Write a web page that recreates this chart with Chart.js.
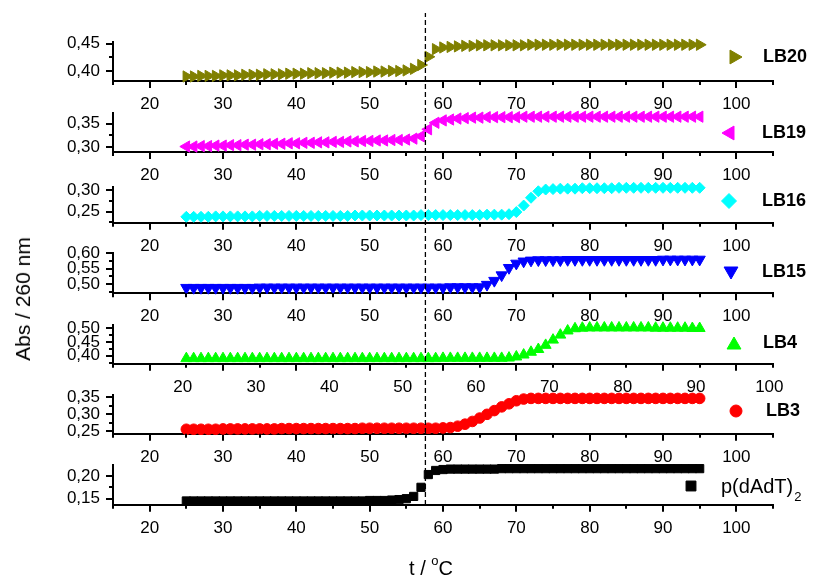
<!DOCTYPE html>
<html>
<head>
<meta charset="utf-8">
<script src="https://cdn.jsdelivr.net/npm/chart.js@4.4.1/dist/chart.umd.min.js"></script>
<style>
html,body{margin:0;padding:0;background:#fff;}
#wrap{position:relative;width:814px;height:581px;overflow:hidden;background:#fff;font-family:"Liberation Sans",Arial,sans-serif;color:#000;}
#wrap canvas{position:absolute;left:0;top:0;}
.ytitle{position:absolute;left:23px;top:299px;transform:translate(-50%,-50%) rotate(-90deg);font-size:21px;white-space:nowrap;}
.xtitle{position:absolute;left:431px;top:568px;transform:translate(-50%,-50%);font-size:20px;white-space:nowrap;}
.xtitle sup{font-size:13px;vertical-align:top;position:relative;top:-4px;}
</style>
</head>
<body>
<div id="wrap">
<div class="ytitle">Abs / 260 nm</div>
<div class="xtitle">t / <sup>o</sup>C</div>
</div>
<script>
// ---------------- DATA ----------------
const temps = [25,26,27,28,29,30,31,32,33,34,35,36,37,38,39,40,41,42,43,44,45,46,47,48,49,50,51,52,53,54,55,56,57,58,59,60,61,62,63,64,65,66,67,68,69,70,71,72,73,74,75,76,77,78,79,80,81,82,83,84,85,86,87,88,89,90,91,92,93,94,95];

const lb20 = [0.390,0.390,0.391,0.391,0.391,0.392,0.392,0.392,0.393,0.393,
              0.393,0.394,0.394,0.394,0.395,0.395,0.395,0.396,0.396,0.396,
              0.397,0.397,0.397,0.398,0.398,0.398,0.399,0.399,0.400,0.400,
              0.401,0.404,0.411,0.426,0.440,0.443,0.444,0.445,0.446,0.446,
              0.447,0.447,0.447,0.447,0.447,0.447,0.447,0.448,0.448,0.448,
              0.448,0.448,0.448,0.448,0.448,0.448,0.448,0.448,0.448,0.448,
              0.448,0.448,0.448,0.448,0.448,0.448,0.448,0.448,0.448,0.448,
              0.448];
const lb19 = [0.301,0.301,0.302,0.302,0.303,0.303,0.304,0.304,0.305,0.305,
              0.306,0.306,0.307,0.307,0.308,0.308,0.309,0.309,0.310,0.310,
              0.311,0.311,0.312,0.312,0.313,0.313,0.314,0.314,0.315,0.315,
              0.316,0.318,0.323,0.338,0.352,0.357,0.359,0.361,0.362,0.363,
              0.363,0.364,0.364,0.364,0.364,0.364,0.365,0.365,0.365,0.365,
              0.365,0.365,0.365,0.365,0.365,0.365,0.365,0.365,0.365,0.365,
              0.365,0.365,0.365,0.365,0.365,0.365,0.365,0.365,0.365,0.365,
              0.365];
const lb16 = [0.238,0.238,0.238,0.238,0.239,0.239,0.239,0.239,0.239,0.239,
              0.240,0.240,0.240,0.240,0.240,0.240,0.240,0.240,0.240,0.240,
              0.240,0.240,0.240,0.241,0.241,0.241,0.241,0.241,0.241,0.241,
              0.241,0.241,0.242,0.242,0.242,0.242,0.242,0.242,0.242,0.242,
              0.242,0.243,0.243,0.243,0.244,0.249,0.264,0.282,0.297,0.301,
              0.302,0.303,0.303,0.303,0.304,0.304,0.304,0.304,0.304,0.305,
              0.305,0.305,0.305,0.305,0.305,0.305,0.305,0.305,0.305,0.305,
              0.305];
const lb15 = [0.488,0.488,0.488,0.488,0.488,0.488,0.488,0.488,0.488,0.488,
              0.489,0.489,0.489,0.489,0.489,0.489,0.489,0.489,0.489,0.489,
              0.489,0.489,0.489,0.489,0.489,0.489,0.489,0.489,0.489,0.489,
              0.489,0.489,0.489,0.489,0.489,0.489,0.490,0.490,0.490,0.490,
              0.490,0.498,0.511,0.529,0.553,0.567,0.574,0.577,0.578,0.578,
              0.578,0.578,0.579,0.579,0.579,0.579,0.579,0.579,0.579,0.579,
              0.579,0.579,0.579,0.579,0.579,0.580,0.580,0.580,0.580,0.580,
              0.580];
const lb4  = [0.390,0.390,0.390,0.390,0.390,0.390,0.390,0.390,0.390,0.390,
              0.390,0.390,0.390,0.390,0.390,0.390,0.390,0.390,0.390,0.390,
              0.390,0.390,0.390,0.390,0.390,0.390,0.390,0.390,0.390,0.390,
              0.390,0.390,0.390,0.390,0.390,0.391,0.391,0.391,0.391,0.391,
              0.391,0.391,0.391,0.391,0.392,0.396,0.403,0.413,0.423,0.438,
              0.457,0.475,0.490,0.498,0.500,0.501,0.501,0.501,0.501,0.501,
              0.501,0.501,0.501,0.501,0.500,0.500,0.500,0.500,0.500,0.499,
              0.499];
const lb3  = [0.256,0.256,0.256,0.256,0.256,0.257,0.257,0.257,0.257,0.257,
              0.257,0.257,0.257,0.258,0.258,0.258,0.258,0.258,0.258,0.258,
              0.258,0.258,0.258,0.258,0.259,0.259,0.259,0.259,0.259,0.259,
              0.259,0.259,0.259,0.259,0.259,0.260,0.261,0.265,0.271,0.279,
              0.289,0.300,0.311,0.322,0.331,0.340,0.345,0.347,0.347,0.347,
              0.347,0.347,0.347,0.347,0.347,0.347,0.347,0.347,0.347,0.347,
              0.347,0.347,0.347,0.347,0.347,0.347,0.347,0.347,0.347,0.347,
              0.347];
const pdAdT = [0.145,0.145,0.145,0.145,0.145,0.145,0.145,0.145,0.145,0.145,
               0.145,0.145,0.145,0.145,0.145,0.145,0.145,0.145,0.145,0.145,
               0.145,0.145,0.145,0.145,0.145,0.146,0.146,0.146,0.147,0.148,
               0.150,0.155,0.175,0.203,0.212,0.214,0.215,0.215,0.215,0.215,
               0.215,0.215,0.215,0.216,0.216,0.216,0.216,0.216,0.216,0.216,
               0.216,0.216,0.216,0.216,0.216,0.216,0.216,0.216,0.216,0.216,
               0.216,0.216,0.216,0.216,0.216,0.216,0.216,0.216,0.216,0.216,
               0.216];

const seriesLabels = ['LB20','LB19','LB16','LB15','LB4','LB3','p(dAdT)2'];
const xTickValues = [20,30,40,50,60,70,80,90,100];
const yTicksLB20 = [0.40,0.45];
const yTicksLB19 = [0.30,0.35];
const yTicksLB16 = [0.25,0.30];
const yTicksLB15 = [0.50,0.55,0.60];
const yTicksLB4  = [0.40,0.45,0.50];
const yTicksLB3  = [0.25,0.30,0.35];
const yTicksPdAdT = [0.15,0.20];
const transitionTemp = 57.6;   // dashed reference line

// ---------------- STYLE / LAYOUT ----------------
const FONT = '"Liberation Sans", Arial, sans-serif';
const W = 814, H = 581, AXIS_LEFT = 113, AXIS_RIGHT_PAD = 41, XAXIS_H = 30;
const X_MIN = 15, X_MAX = 105;

const panels = [
  {label:seriesLabels[0], vals:lb20, yTicks:yTicksLB20, yMin:0.3817, yMax:0.4525, top:42.3, bottom:81,
   color:'#808000', style:'triangle', rot:90, r:6.5, leg:{x:734,y:57,tx:763,ty:57,r:8,bold:true,size:18}},
  {label:seriesLabels[1], vals:lb19, yTicks:yTicksLB19, yMin:0.2893, yMax:0.3736, top:112.7, bottom:152,
   color:'#FF00FF', style:'triangle', rot:-90, r:6.5, leg:{x:730,y:133,tx:762,ty:133,r:8,bold:true,size:18}},
  {label:seriesLabels[2], vals:lb16, yTicks:yTicksLB16, yMin:0.2244, yMax:0.308, top:186.5, bottom:222.7,
   color:'#00FFFF', style:'rectRot', rot:0, r:5.5, leg:{x:729,y:201,tx:762,ty:201,r:7.5,bold:true,size:18}},
  {label:seriesLabels[3], vals:lb15, yTicks:yTicksLB15, yMin:0.4697, yMax:0.602, top:252.7, bottom:293.3,
   color:'#0000FF', style:'triangle', rot:180, r:6.5, leg:{x:731,y:271,tx:762,ty:272,r:8,bold:true,size:18}},
  {label:seriesLabels[4], vals:lb4, yTicks:yTicksLB4, yMin:0.3711, yMax:0.511, top:325, bottom:363.7,
   color:'#00FF00', style:'triangle', rot:0, r:6.3, labelOffset:33, leg:{x:734,y:345,tx:763,ty:343,r:8,bold:true,size:18}},
  {label:seriesLabels[5], vals:lb3, yTicks:yTicksLB3, yMin:0.2429, yMax:0.357, top:395, bottom:433.7,
   color:'#FF0000', style:'circle', rot:0, r:5.3, leg:{x:736,y:411,tx:766,ty:411,r:6,bold:true,size:18}},
  {label:seriesLabels[6], vals:pdAdT, yTicks:yTicksPdAdT, yMin:0.1368, yMax:0.224, top:465, bottom:504.7,
   color:'#000000', style:'rect', rot:0, r:5.8, leg:{x:691,y:486,tx:721,ty:487,r:7,bold:false,size:20,subLen:1}}
];

const fmtComma = v => Number(v).toFixed(2).replace('.', ',');

function drawMarker(ctx, style, rot, r, x, y){
  if (Chart.helpers && Chart.helpers.drawPoint) {
    Chart.helpers.drawPoint(ctx, {pointStyle:style, rotation:rot, radius:r, borderWidth:1}, x, y);
  }
}

const minorTicks = {
  id:'minorTicks',
  afterDraw(chart, args, opts){
    if (!opts || !opts.yTicks) return;
    const ctx = chart.ctx, xs = chart.scales.x, ys = chart.scales.y, a = chart.chartArea;
    ctx.save();
    ctx.strokeStyle = '#000'; ctx.lineWidth = 2; ctx.beginPath();
    const xs0 = xTickValues, xstep = xs0[1]-xs0[0];
    for (let v = xs0[0]-xstep/2; v <= xs.max + 1e-9; v += xstep) {
      if (v < xs.min - 1e-9) continue;
      const px = Math.round(xs.getPixelForValue(v));
      ctx.moveTo(px, a.bottom); ctx.lineTo(px, a.bottom + opts.len);
    }
    const yt = opts.yTicks, ystep = yt[1]-yt[0];
    for (let v = yt[0]-ystep/2; v <= ys.max + 1e-9; v += ystep) {
      if (v < ys.min - 1e-9) continue;
      const py = Math.round(ys.getPixelForValue(v));
      ctx.moveTo(a.left, py); ctx.lineTo(a.left - opts.len, py);
    }
    ctx.stroke();
    ctx.restore();
  }
};

const panelLegend = {
  id:'panelLegend',
  afterDatasetsDraw(chart, args, opts){
    if (!opts || opts.x === undefined) return;
    const ds = chart.data.datasets[0];
    const ctx = chart.ctx;
    ctx.save();
    ctx.fillStyle = ds.backgroundColor; ctx.strokeStyle = ds.borderColor; ctx.lineWidth = 1;
    drawMarker(ctx, ds.pointStyle, ds.pointRotation || 0, opts.r, opts.x, opts.y);
    ctx.fillStyle = '#000'; ctx.textBaseline = 'middle'; ctx.textAlign = 'left';
    ctx.font = (opts.bold ? 'bold ' : '') + opts.size + 'px ' + FONT;
    const txt = ds.label;
    const n = opts.subLen || 0;
    const main = n ? txt.slice(0, txt.length - n) : txt;
    ctx.fillText(main, opts.tx, opts.ty);
    if (n) {
      const w = ctx.measureText(main).width;
      ctx.font = '13px ' + FONT;
      ctx.fillText(txt.slice(txt.length - n), opts.tx + w + 1, opts.ty + 10);
    }
    ctx.restore();
  }
};

const wrap = document.getElementById('wrap');
function makeCanvas(){
  const c = document.createElement('canvas');
  c.width = W; c.height = H; c.style.width = W + 'px'; c.style.height = H + 'px';
  wrap.appendChild(c);
  return c;
}

panels.forEach(p => {
  const c = makeCanvas();
  new Chart(c, {
    type:'scatter',
    data:{ datasets:[{
      label:p.label,
      data: temps.map((t,i) => ({x:t, y:p.vals[i]})),
      pointStyle:p.style, pointRotation:p.rot, pointRadius:p.r, pointHoverRadius:p.r,
      backgroundColor:p.color, borderColor:p.color, borderWidth:1, showLine:false, clip:false
    }]},
    options:{
      responsive:false, animation:false, devicePixelRatio:1, events:[],
      layout:{ padding:{ top:p.top, bottom:H - p.bottom - XAXIS_H, left:0, right:AXIS_RIGHT_PAD } },
      plugins:{ legend:{display:false}, tooltip:{enabled:false},
        minorTicks:{ yTicks:p.yTicks, len:4 },
        panelLegend:p.leg },
      scales:{
        x:{ type:'linear', position:'bottom', min:X_MIN, max:X_MAX,
            afterBuildTicks: s => { s.ticks = xTickValues.map(v => ({value:v})); },
            afterFit: s => { s.height = XAXIS_H; },
            grid:{ drawOnChartArea:false, drawTicks:true, tickLength:7, lineWidth:2, color:'#000' },
            border:{ display:true, color:'#000', width:2 },
            ticks:{ color:'#000', font:{size:17, family:FONT}, padding:6, autoSkip:false, maxRotation:0,
                    labelOffset:p.labelOffset || 0, callback: v => String(v) } },
        y:{ type:'linear', position:'left', min:p.yMin, max:p.yMax,
            afterBuildTicks: s => { s.ticks = p.yTicks.map(v => ({value:v})); },
            afterFit: s => { s.width = AXIS_LEFT; },
            grid:{ drawOnChartArea:false, drawTicks:true, tickLength:7, lineWidth:2, color:'#000' },
            border:{ display:true, color:'#000', width:2 },
            ticks:{ color:'#000', font:{size:17, family:FONT}, padding:6, autoSkip:false,
                    callback: v => fmtComma(v) } }
      }
    },
    plugins:[minorTicks, panelLegend]
  });
});

// dashed reference line across all panels
(function(){
  const c = makeCanvas();
  new Chart(c, {
    type:'scatter',
    data:{ datasets:[{ label:'transition', data:[{x:transitionTemp, y:0},{x:transitionTemp, y:1}],
      showLine:true, pointRadius:0, borderColor:'#000', borderWidth:1.3, borderDash:[5,3], clip:false }]},
    options:{
      responsive:false, animation:false, devicePixelRatio:1, events:[],
      layout:{ padding:{ top:13, bottom:H - 505, left:AXIS_LEFT, right:AXIS_RIGHT_PAD } },
      plugins:{ legend:{display:false}, tooltip:{enabled:false} },
      scales:{ x:{ type:'linear', display:false, min:X_MIN, max:X_MAX },
               y:{ type:'linear', display:false, min:0, max:1 } }
    }
  });
})();
// keep titles on top
wrap.querySelectorAll('.ytitle,.xtitle').forEach(el => wrap.appendChild(el));
</script>
</body>
</html>
